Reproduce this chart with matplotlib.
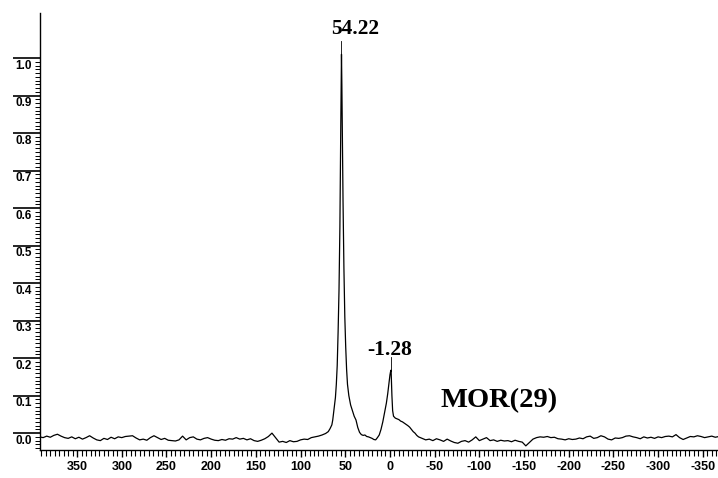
import matplotlib
matplotlib.use('Agg')
import matplotlib.pyplot as plt
import numpy as np
from matplotlib.ticker import MultipleLocator, FixedLocator

plt.rcParams['axes.unicode_minus'] = False

# chemical shift (ppm) and normalised intensity of the MOR(29) spectrum
shift_left = [392, 388, 384, 380, 376, 372, 368, 364, 360, 356, 352, 348, 344, 340,
              336, 332, 328, 324, 320, 316, 312, 308, 304, 300, 296, 292, 288, 284,
              280, 276, 272, 268, 264, 260, 256, 252, 248, 244, 240, 236, 232, 228,
              224, 220, 216, 212, 208, 204, 200, 196, 192, 188, 184, 180, 176, 172,
              168, 164, 160, 156, 152, 148, 144, 140, 136, 132, 128, 124, 120, 116,
              112, 108, 104, 100, 96, 92, 88, 84, 80, 76, 72]
int_left = [-0.010, -0.012, -0.008, -0.011, -0.006, -0.003, -0.008, -0.012, -0.014,
            -0.010, -0.015, -0.011, -0.016, -0.012, -0.007, -0.013, -0.018, -0.020,
            -0.014, -0.017, -0.011, -0.015, -0.010, -0.012, -0.009, -0.008, -0.007,
            -0.013, -0.018, -0.016, -0.019, -0.012, -0.007, -0.012, -0.017, -0.014,
            -0.019, -0.020, -0.021, -0.018, -0.008, -0.018, -0.012, -0.010, -0.016,
            -0.018, -0.014, -0.012, -0.016, -0.019, -0.020, -0.017, -0.019, -0.015,
            -0.016, -0.012, -0.016, -0.014, -0.018, -0.015, -0.020, -0.022, -0.019,
            -0.015, -0.009, 0.000, -0.012, -0.024, -0.022, -0.025, -0.020, -0.023,
            -0.022, -0.018, -0.016, -0.017, -0.012, -0.010, -0.008, -0.005, -0.001]

shift_peaks = [69, 67, 65, 64, 63, 62, 61, 60, 59, 58, 57, 56, 55.5, 55, 54.6, 54.22,
               53.8, 53.3, 52.5, 51.5, 50.5, 49.5, 48.5, 47.5, 46, 44, 42, 40, 38, 36,
               34, 32, 30, 28, 26, 24, 22, 20, 18, 16, 14, 12, 10, 8, 6, 4, 2.5, 1, 0,
               -0.6, -1.28, -2.2, -3, -4, -6, -8, -10, -12, -14, -17, -20, -22, -24,
               -26, -28, -30, -32]
int_peaks = [0.004, 0.012, 0.022, 0.035, 0.055, 0.075, 0.095, 0.13, 0.18, 0.27, 0.38,
             0.55, 0.70, 0.82, 0.93, 1.01, 0.93, 0.80, 0.62, 0.44, 0.31, 0.23, 0.17,
             0.13, 0.10, 0.075, 0.06, 0.045, 0.035, 0.015, 0.002, -0.004, -0.006,
             -0.005, -0.009, -0.010, -0.012, -0.014, -0.017, -0.018, -0.012, -0.005,
             0.010, 0.030, 0.055, 0.080, 0.105, 0.135, 0.155, 0.163, 0.168, 0.10,
             0.06, 0.045, 0.040, 0.038, 0.036, 0.032, 0.030, 0.025, 0.020, 0.016,
             0.010, 0.004, 0.000, -0.006, -0.010]

shift_right = [-36, -40, -44, -48, -52, -56, -60, -64, -68, -72, -76, -80, -84, -88,
               -92, -96, -100, -104, -108, -112, -116, -120, -124, -128, -132, -136,
               -140, -144, -148, -152, -156, -160, -164, -168, -172, -176, -180, -184,
               -188, -192, -196, -200, -204, -208, -212, -216, -220, -224, -228, -232,
               -236, -240, -244, -248, -252, -256, -260, -264, -268, -272, -276, -280,
               -284, -288, -292, -296, -300, -304, -308, -312, -316, -320, -324, -328,
               -332, -336, -340, -344, -348, -352, -356, -360, -364, -368]
int_right = [-0.014, -0.018, -0.016, -0.020, -0.015, -0.018, -0.022, -0.016, -0.021,
             -0.025, -0.027, -0.022, -0.020, -0.024, -0.018, -0.010, -0.020, -0.016,
             -0.012, -0.020, -0.018, -0.022, -0.019, -0.021, -0.020, -0.023, -0.019,
             -0.022, -0.024, -0.034, -0.025, -0.016, -0.012, -0.010, -0.011, -0.009,
             -0.012, -0.011, -0.015, -0.016, -0.018, -0.015, -0.017, -0.016, -0.013,
             -0.015, -0.010, -0.008, -0.014, -0.012, -0.007, -0.010, -0.016, -0.018,
             -0.013, -0.014, -0.012, -0.008, -0.007, -0.010, -0.012, -0.015, -0.010,
             -0.013, -0.011, -0.014, -0.010, -0.012, -0.009, -0.008, -0.010, -0.004,
             -0.012, -0.017, -0.013, -0.009, -0.010, -0.007, -0.009, -0.012, -0.010,
             -0.008, -0.011, -0.009]

peak_pos = [54.22, -1.28]
peak_top = [1.01, 0.168]
peak_text = ['54.22', '-1.28']
sample_name = 'MOR(29)'

shift = np.array(shift_left + shift_peaks + shift_right)
inten = np.array(int_left + int_peaks + int_right)

fig = plt.figure(figsize=(7.18, 4.78), dpi=100)
ax = fig.add_axes([40/718, 28/478, 678/718, 437/478])

ax.plot(shift, inten, color='black', lw=0.9)

ax.set_xlim(391.5, -367)
ax.set_ylim(-0.045, 1.12)

for s in ['top', 'right']:
    ax.spines[s].set_visible(False)
ax.spines['left'].set_linewidth(1.0)
ax.spines['bottom'].set_linewidth(1.0)

# x axis: labelled every 50 ppm, minor every 5
ax.xaxis.set_major_locator(FixedLocator(np.arange(-350, 351, 50)))
ax.xaxis.set_minor_locator(MultipleLocator(5))
ax.tick_params(axis='x', which='major', direction='out', length=5, width=1.0, pad=3)
ax.tick_params(axis='x', which='minor', direction='out', length=4, width=0.8)
for lab in ax.get_xticklabels():
    lab.set_fontfamily('Liberation Sans')
    lab.set_fontweight('bold')
    lab.set_fontsize(9)

# y axis: long major ticks with labels sitting under them
yt = np.round(np.arange(0, 1.01, 0.1), 1)
ax.yaxis.set_major_locator(FixedLocator(yt))
ax.yaxis.set_minor_locator(FixedLocator(np.round(np.arange(-0.04, 1.001, 0.01), 2)))
ax.tick_params(axis='y', which='major', direction='out', length=19.5, width=1.2,
               labelleft=False)
ax.tick_params(axis='y', which='minor', direction='out', length=3.5, width=0.7)
for v in yt:
    ax.text(-8/678, v - 0.021, '%.1f' % v, transform=ax.get_yaxis_transform(),
            ha='right', va='center', fontsize=8.5, fontweight='bold',
            fontfamily='Liberation Sans')

# peak markers
for p, t in zip(peak_pos, peak_top):
    ax.plot([p, p], [t, t + 0.035], color='black', lw=0.6)
ax.text(38.6, 1.077, peak_text[0], ha='center', va='center', fontsize=15.5,
        fontweight='bold', fontfamily='Liberation Serif')
ax.text(0, 0.221, peak_text[1], ha='center', va='center', fontsize=15.5,
        fontweight='bold', fontfamily='Liberation Serif')
ax.text(-56, 0.088, sample_name, ha='left', va='center', fontsize=20.5,
        fontweight='bold', fontfamily='Liberation Serif')

fig.savefig('out.png', dpi=100)
